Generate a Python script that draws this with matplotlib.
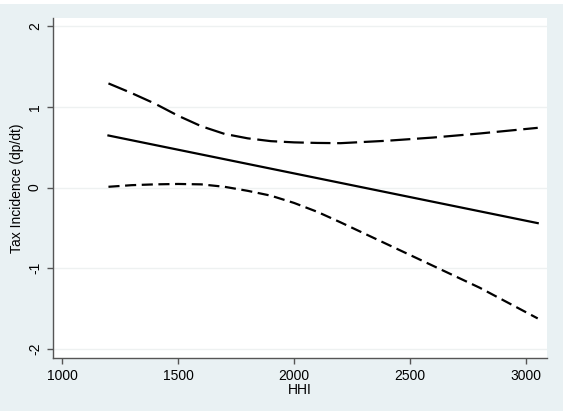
import matplotlib
matplotlib.use("Agg")
import matplotlib.pyplot as plt
from matplotlib.patches import Rectangle

hhi = [1200, 1300, 1400, 1500, 1600, 1700, 1800, 1900, 2000, 2100, 2200, 2400, 2600, 2800, 3050]
upper = [1.29, 1.17, 1.04, 0.89, 0.76, 0.665, 0.61, 0.575, 0.56, 0.553, 0.55, 0.58, 0.62, 0.67, 0.74]
lower = [0.01, 0.03, 0.04, 0.045, 0.04, 0.01, -0.04, -0.10, -0.19, -0.30, -0.43, -0.70, -0.97, -1.24, -1.62]
est_hhi = [1200, 3050]
estimate = [0.645, -0.44]

xticks = [1000, 1500, 2000, 2500, 3000]
yticks = [-2, -1, 0, 1, 2]

plt.rcParams['font.family'] = ['Liberation Sans', 'DejaVu Sans']

bg = '#E9F1F3'
fig = plt.figure(figsize=(5.63, 4.11), dpi=100, facecolor=bg)
fig.patches.append(Rectangle((0, 1 - 4/411), 1, 4/411, transform=fig.transFigure,
                             facecolor='white', edgecolor='none', zorder=0))
ax = fig.add_axes([53/563, 1 - 358/411, (547 - 53)/563, (358 - 18)/411])
ax.set_facecolor('white')

ax.plot(hhi, upper, color='black', lw=1.6, dashes=(9, 3))
ax.plot(est_hhi, estimate, color='black', lw=1.6)
ax.plot(hhi, lower, color='black', lw=1.6, dashes=(5, 2.5))

ax.set_xlim(961, 3090)
ax.set_ylim(-2.11, 2.1)
ax.set_xticks(xticks)
ax.set_yticks(yticks)
ax.set_yticklabels([str(v) for v in yticks], rotation=90, va='center')
ax.grid(axis='y', color='#EEF1F1', lw=1)
ax.set_axisbelow(True)
for s in ['top', 'right']:
    ax.spines[s].set_visible(False)
for s in ['left', 'bottom']:
    ax.spines[s].set_color('#555555')
    ax.spines[s].set_linewidth(1)
ax.tick_params(axis='both', colors='#555555', labelcolor='black', labelsize=10,
               length=4, width=1)
ax.tick_params(axis='y', pad=4)
ax.tick_params(axis='x', pad=4)
ax.set_xlabel('HHI', fontsize=10, labelpad=0)
ax.set_ylabel('Tax Incidence (dp/dt)', fontsize=10, labelpad=3)

fig.savefig('out.png', dpi=100, facecolor=bg)
